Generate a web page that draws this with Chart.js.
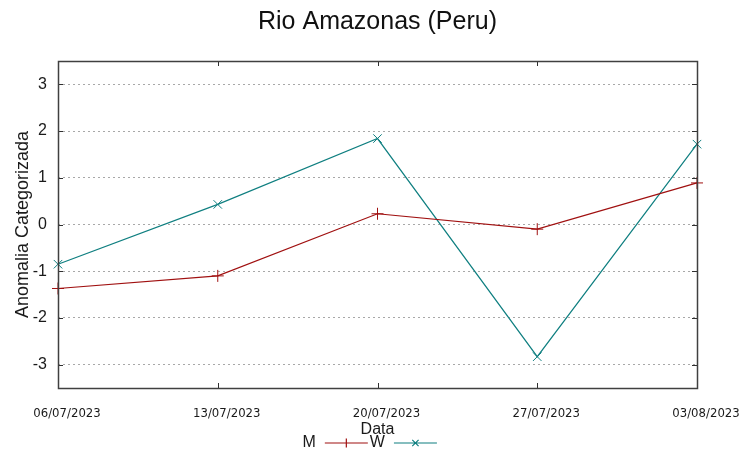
<!DOCTYPE html>
<html>
<head>
<meta charset="utf-8">
<script src="https://cdn.jsdelivr.net/npm/chart.js@4"></script>
<style>
  html, body { margin: 0; padding: 0; background: #fff; }
</style>
</head>
<body>
<canvas id="anomChart" width="753" height="458"></canvas>
<script>
// valores
const dates = ['06/07/2023', '13/07/2023', '20/07/2023', '27/07/2023', '03/08/2023'];
const serieM = [-1.37, -1.10, 0.23, -0.10, 0.89];
const serieW = [-0.85, 0.43, 1.84, -2.83, 1.72];
const yTicks = [-3, -2, -1, 0, 1, 2, 3];
const titulo = 'Rio Amazonas (Peru)';

const corM = '#a01010';
const corW = '#0f7f80';
const fonte = "'Liberation Sans', Arial, sans-serif";
const fonteEstreita = "'Liberation Sans Narrow', 'DejaVu Sans Condensed', 'Liberation Sans', sans-serif";

Chart.defaults.font.family = fonte;
Chart.defaults.color = '#1a1a1a';

const ctx = document.getElementById('anomChart').getContext('2d');

// moldura estilo gnuplot com ticks para dentro
const frame = {
  id: 'frame',
  afterDraw(chart) {
    const c = chart.ctx;
    const a = chart.chartArea;
    const xs = chart.scales.x;
    const ys = chart.scales.y;
    c.save();
    c.strokeStyle = '#303030';
    c.lineWidth = 1;
    c.beginPath();
    yTicks.forEach(v => {
      const py = Math.round(ys.getPixelForValue(v)) + 0.5;
      c.moveTo(a.left, py); c.lineTo(a.left + 5, py);
      c.moveTo(a.right, py); c.lineTo(a.right - 5, py);
    });
    dates.forEach((d, i) => {
      const px = Math.round(xs.getPixelForValue(i)) + 0.5;
      c.moveTo(px, a.bottom); c.lineTo(px, a.bottom - 5);
      c.moveTo(px, a.top); c.lineTo(px, a.top + 5);
    });
    c.stroke();
    c.strokeStyle = '#404040';
    c.lineWidth = 1.5;
    c.strokeRect(Math.round(a.left) + 0.5, Math.round(a.top) + 0.5,
                 Math.round(a.right - a.left), Math.round(a.bottom - a.top));
    // titulo centrado na area do grafico
    c.font = '25px ' + fonte;
    c.fillStyle = '#111';
    c.textAlign = 'center';
    c.textBaseline = 'middle';
    c.fillText(titulo, (a.left + a.right) / 2, 22);
    c.restore();
  }
};

// legenda no formato gnuplot: texto e depois amostra da linha
const legendaGp = {
  id: 'legendaGp',
  afterDraw(chart) {
    const c = chart.ctx;
    const a = chart.chartArea;
    const meio = (a.left + a.right) / 2;
    const y = 443;
    c.save();
    c.font = '16px ' + fonte;
    c.fillStyle = '#1a1a1a';
    c.textBaseline = 'middle';
    c.textAlign = 'left';
    let x = meio - 75;
    chart.data.datasets.forEach(ds => {
      c.fillText(ds.label, x, y);
      const w = c.measureText(ds.label).width;
      const x0 = x + w + 9, x1 = x0 + 43;
      c.strokeStyle = ds.borderColor;
      c.lineWidth = 1.2;
      c.beginPath();
      c.moveTo(x0, y); c.lineTo(x1, y);
      const mx = (x0 + x1) / 2, r = 4.5;
      if (ds.pointStyle === 'cross') {
        c.moveTo(mx, y - r); c.lineTo(mx, y + r);
      } else {
        c.moveTo(mx - r * 0.7, y - r * 0.7); c.lineTo(mx + r * 0.7, y + r * 0.7);
        c.moveTo(mx - r * 0.7, y + r * 0.7); c.lineTo(mx + r * 0.7, y - r * 0.7);
      }
      c.stroke();
      x = x1 + 2;
    });
    c.restore();
  }
};

const chart = new Chart(ctx, {
  type: 'line',
  data: {
    labels: dates,
    datasets: [
      {
        label: 'M',
        data: serieM,
        borderColor: corM,
        backgroundColor: corM,
        borderWidth: 1.2,
        pointStyle: 'cross',
        pointRadius: 6,
        pointBorderWidth: 1,
        tension: 0,
        clip: false
      },
      {
        label: 'W',
        data: serieW,
        borderColor: corW,
        backgroundColor: corW,
        borderWidth: 1.2,
        pointStyle: 'crossRot',
        pointRadius: 6,
        pointBorderWidth: 1,
        tension: 0,
        clip: false
      }
    ]
  },
  options: {
    responsive: false,
    animation: false,
    layout: { padding: { left: 0, right: 56, top: 61, bottom: 19 } },
    plugins: {
      legend: { display: false },
      tooltip: { enabled: false },
      title: { display: false }
    },
    scales: {
      x: {
        offset: false,
        grid: { display: false },
        border: { display: false },
        ticks: {
          padding: 10,
          labelOffset: 9,
          maxRotation: 0,
          autoSkip: false,
          font: { size: 13, family: fonteEstreita },
          color: '#1a1a1a'
        },
        title: {
          display: true,
          text: 'Data',
          font: { size: 16 },
          padding: { top: 0, bottom: 0 },
          color: '#1a1a1a'
        },
        afterFit(scale) { scale.height = 51; }
      },
      y: {
        min: -3.5,
        max: 3.5,
        grid: { color: '#a8a8a8', drawTicks: false, lineWidth: 1 },
        border: { display: false, dash: [2, 3] },
        ticks: {
          padding: 11,
          font: { size: 16 },
          color: '#1a1a1a'
        },
        afterBuildTicks(scale) {
          scale.ticks = yTicks.map(v => ({ value: v }));
        },
        title: {
          display: true,
          text: 'Anomalia Categorizada',
          font: { size: 18 },
          padding: { top: 12, bottom: 0 },
          color: '#1a1a1a'
        },
        afterFit(scale) { scale.width = 58; }
      }
    }
  },
  plugins: [frame, legendaGp]
});
</script>
</body>
</html>
